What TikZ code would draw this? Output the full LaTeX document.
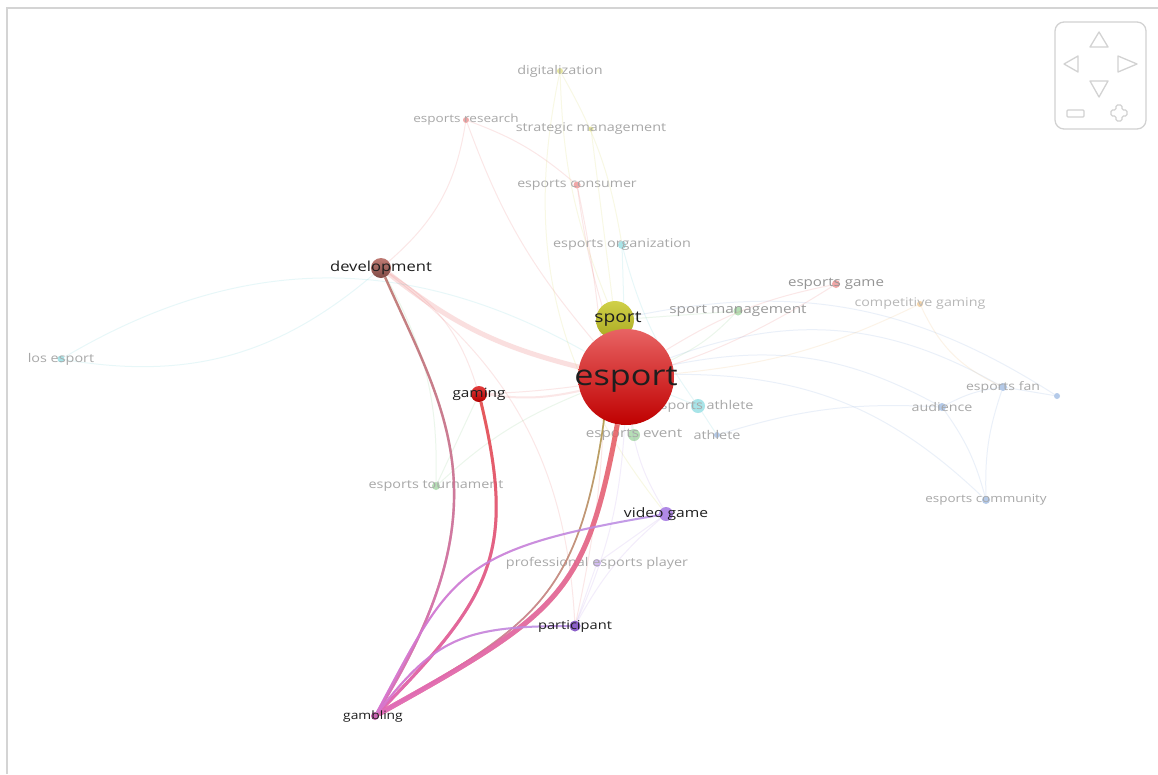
\documentclass[tikz,border=0pt]{standalone}
\usepackage{fontspec}
\setmainfont{Open Sans}[FakeStretch=1.2]
\usetikzlibrary{fadings}

\definecolor{framegray}{HTML}{D4D4D4}
\definecolor{navgray}{HTML}{D2D2D2}
\definecolor{labgray}{HTML}{A8A8A8}
\definecolor{labdark}{HTML}{1E1E1E}
\definecolor{redc}{HTML}{E23C3C}
\definecolor{yelc}{HTML}{C8C828}
\definecolor{tealc}{HTML}{40C4CC}
\definecolor{bluec}{HTML}{5A8AD0}
\definecolor{greenc}{HTML}{5CB85C}
\definecolor{purc}{HTML}{9C6CE0}
\definecolor{orc}{HTML}{E8A040}
\definecolor{gambpink}{HTML}{E070C8}
\definecolor{devbrown}{HTML}{B86C64}

\newcommand\fsz[1]{\fontsize{#1}{#1}\selectfont}

% edge from gambling: base colour, with a pink overlay fading out toward the target
\newcommand\gambedge[6]{%
  \draw[line width=#2, color=#1, opacity=.85] (gmb) .. controls #3 and #4 .. (#5);
  \draw[line width=#2, color=gambpink, opacity=.85, path fading=#6] (gmb) .. controls #3 and #4 .. (#5);
}

\begin{document}
\begin{tikzpicture}[x=1pt,y=-1pt,
  dot/.style={circle, inner sep=0pt, draw=none},
  fdot/.style={dot, fill opacity=.45},
  flab/.style={text=labgray, inner sep=0pt, font=\fsz{12}},
  mlab/.style={text=labdark, inner sep=0pt},
  faint/.style={line width=1pt, opacity=.12},
]
\useasboundingbox (0,0) rectangle (1158,774);
\fill[white] (0,0) rectangle (1158,774);
\draw[framegray, line width=2pt] (7,774) -- (7,8) -- (1158,8);

% ---------- node positions ----------
\node[fdot, fill=yelc, minimum size=6] (dig) at (560,71) {};
\node[fdot, fill=redc, minimum size=6] (res) at (466,120) {};
\node[fdot, fill=yelc, minimum size=5] (stm) at (591,129) {};
\node[fdot, fill=redc, minimum size=7] (con) at (577,185) {};
\node[fdot, fill=tealc, minimum size=8] (org) at (622,245) {};
\node[fdot, fill=redc, minimum size=8] (egm) at (836,284) {};
\node[fdot, fill=orc, minimum size=6] (cgm) at (920,304) {};
\node[fdot, fill=greenc, minimum size=9] (smg) at (738,311) {};
\node[fdot, fill=tealc, minimum size=7] (los) at (61,359) {};
\node[fdot, fill=tealc, minimum size=14] (ath) at (698,406) {};
\node[fdot, fill=bluec, minimum size=6] (atl) at (717,435) {};
\node[fdot, fill=greenc, minimum size=12] (evt) at (634,435) {};
\node[fdot, fill=bluec, minimum size=8] (fan) at (1003,387) {};
\node[fdot, fill=bluec, minimum size=8] (aud) at (942,407) {};
\node[fdot, fill=bluec, minimum size=6] (unl) at (1057,396) {};
\node[fdot, fill=greenc, minimum size=8] (trn) at (436,486) {};
\node[fdot, fill=bluec, minimum size=8] (com) at (986,500) {};
\node[fdot, fill=purc, minimum size=8] (pro) at (597,563) {};

% main nodes (placed now, painted later)
\coordinate (espc) at (626,377);
\path (espc) node[dot, minimum size=96] (esp) {};
\path (615,320) node[dot, minimum size=38] (spo) {};
\path (381,268) node[dot, minimum size=20] (dev) {};
\path (479,394) node[dot, minimum size=16] (gam) {};
\path (666,514) node[dot, minimum size=14] (vid) {};
\path (575,626) node[dot, minimum size=11] (par) {};
\path (375,716) node[dot, minimum size=8] (gmb) {};

% ---------- faint links ----------
\begin{scope}[faint]
  \draw[redc, line width=5pt, opacity=.16] (dev) to[bend right=12] (esp);
  \draw[redc] (res) to[bend right=10] (esp);
  \draw[redc] (res) to[bend left=10] (con);
  \draw[redc] (res) to[bend left=20] (dev);
  \draw[redc] (con) to[bend right=5] (esp);
  \draw[redc] (con) to[bend left=12] (par);
  \draw[redc] (egm) to[bend right=10] (esp);
  \draw[redc] (egm) to[bend left=15] (gam);
  \draw[redc, line width=2pt] (gam) to[bend right=10] (esp);
  \draw[redc] (dev) to[bend left=20] (gam);
  \draw[redc] (dev) to[bend left=25] (par);
  \draw[yelc] (dig) to[bend right=10] (spo);
  \draw[yelc] (dig) to[bend left=10] (org);
  \draw[yelc] (stm) to (spo);
  \draw[yelc] (dig) to[bend right=25] (vid);
  \draw[tealc] (org) to (esp);
  \draw[tealc] (org) to[bend right=10] (ath);
  \draw[tealc] (los) to[bend right=25] (dev);
  \draw[tealc] (los) to[bend left=30] (esp);
  \draw[tealc] (ath) to (esp);
  \draw[tealc] (ath) to (atl);
  \draw[bluec] (esp) to[bend left=20] (aud);
  \draw[bluec] (esp) to[bend left=25] (fan);
  \draw[bluec] (esp) to[bend left=22] (com);
  \draw[bluec] (spo) to[bend left=22] (unl);
  \draw[bluec] (aud) to[bend left=10] (fan);
  \draw[bluec] (fan) to (unl);
  \draw[bluec] (aud) to[bend left=10] (com);
  \draw[bluec] (fan) to[bend right=10] (com);
  \draw[bluec] (atl) to[bend left=10] (aud);
  \draw[greenc] (smg) to[bend left=10] (esp);
  \draw[greenc] (smg) to (spo);
  \draw[greenc] (evt) to (esp);
  \draw[greenc] (trn) to[bend left=10] (esp);
  \draw[greenc] (trn) to (gam);
  \draw[greenc] (trn) to[bend right=15] (dev);
  \draw[purc] (pro) to (par);
  \draw[purc] (pro) to (vid);
  \draw[purc] (vid) to[bend left=10] (esp);
  \draw[purc] (par) to[bend right=10] (esp);
  \draw[purc] (par) to[bend left=10] (vid);
  \draw[orc] (cgm) to[bend left=10] (esp);
  \draw[orc] (cgm) to[bend right=20] (fan);
\end{scope}

% ---------- faint labels ----------
\node[flab] (digl) at (dig) {digitalization};
\node[flab, font=\fsz{11.3}] (resl) at (res) {esports research};
\node[flab] (stml) at (stm) {strategic management};
\node[flab, font=\fsz{11.8}] (conl) at (con) {esports consumer};
\node[flab] (orgl) at (org) {esports organization};
\node[flab, font=\fsz{12.6}, text=black!42] (egml) at (egm) {esports game};
\node[flab, font=\fsz{11.9}, text=black!28] (cgml) at (cgm) {competitive gaming};
\node[flab, font=\fsz{12.8}, text=black!40] (smgl) at (smg) {sport management};
\node[flab] (losl) at (los) {los esport};
\node[flab] (athl) at (703,406) {esports athlete};
\node[flab] (atll) at (atl) {athlete};
\node[flab, font=\fsz{12.7}] (evtl) at (evt) {esports event};
\node[flab, font=\fsz{11.7}] (fanl) at (fan) {esports fan};
\node[flab, font=\fsz{11.9}] (audl) at (aud) {audience};
\node[flab] (trnl) at (trn) {esports tournament};
\node[flab, font=\fsz{11.2}] (coml) at (com) {esports community};
\node[flab] (prol) at (pro) {professional esports player};

% ---------- links of gambling ----------
\gambedge{devbrown}{2.4pt}{(508,503)}{(445,412)}{dev}{north}
\gambedge{redc}{3pt}{(492,597)}{(517,553)}{gam}{north}
\gambedge{yelc!80!black}{1.6pt}{(548,615)}{(589,600)}{spo}{north}
\gambedge{redc!85!white}{5pt}{(560,613)}{(586,595)}{esp}{north}
\gambedge{purc!75!white}{2pt}{(451,574)}{(456,549)}{vid}{east}
\gambedge{purc!75!white}{2pt}{(435,639)}{(462,626)}{par}{east}

% ---------- main nodes ----------
\node[dot, minimum size=38, top color=yelc!85!white, bottom color=yelc!85!black] at (spo) {};
\node[dot, minimum size=96, top color=redc!80!white, bottom color=red!75!black] at (esp) {};
\node[dot, minimum size=20, top color=devbrown!90!white, bottom color=devbrown!70!black] at (dev) {};
\node[dot, minimum size=16, top color=redc, bottom color=red!70!black] at (gam) {};
\node[dot, minimum size=14, fill=purc!80!white] at (vid) {};
\node[dot, minimum size=11, fill=purc!90!black] at (par) {};
\node[dot, minimum size=8, fill=gambpink!90!black] at (gmb) {};

% ---------- main labels ----------
\node[mlab, font=\fsz{28.5}] (espl) at ([yshift=-3pt]esp.center) {esport};
\node[mlab, font=\fsz{16}] (spol) at (618,319) {sport};
\node[mlab, font=\fsz{13.8}] (devl) at (dev) {development};
\node[mlab, font=\fsz{12.8}] (gaml) at (gam) {gaming};
\node[mlab, font=\fsz{13}] (vidl) at (vid) {video game};
\node[mlab, font=\fsz{12.2}] (parl) at (par) {participant};
\node[mlab, font=\fsz{11.5}] (gmbl) at (373,716) {gambling};

% ---------- navigation pad ----------
\begin{scope}[navgray, line width=1.3pt, line join=round]
  \draw[rounded corners=9pt] (1055,22) rectangle (1146,129);
  \draw (1099,32) -- (1108,47) -- (1090,47) -- cycle;
  \draw (1064,64) -- (1078,56) -- (1078,72) -- cycle;
  \draw (1137,64) -- (1118,56) -- (1118,72) -- cycle;
  \draw (1099,97) -- (1108,81) -- (1090,81) -- cycle;
  \draw[rounded corners=1pt] (1067,110) rectangle (1084,117);
  \draw[rounded corners=1.5pt] (1116,105) -- (1122,105) -- (1122,110) -- (1127,110) -- (1127,116)
     -- (1122,116) -- (1122,121) -- (1116,121) -- (1116,116) -- (1111,116) -- (1111,110)
     -- (1116,110) -- cycle;
\end{scope}
\end{tikzpicture}
\end{document}
